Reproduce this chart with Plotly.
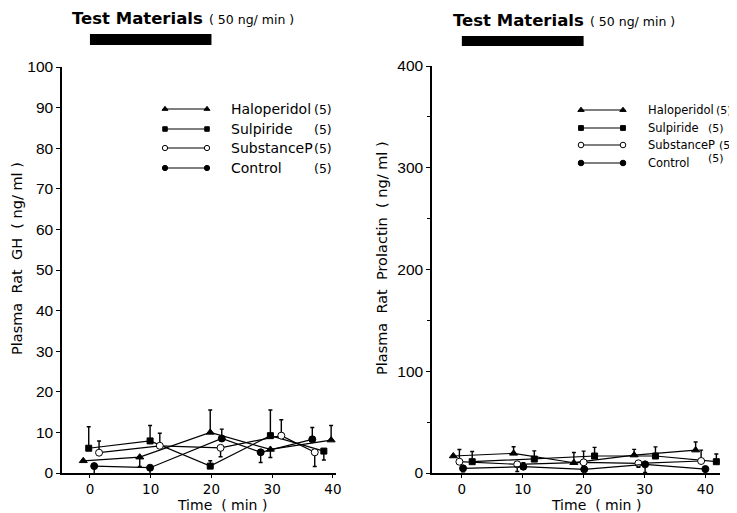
import plotly.graph_objects as go

W, H = 737, 513
OFF = 8  # page body margin of the rendered html page (pixels)

# ---------------- data ----------------
time_ticks = [0, 10, 20, 30, 40]
infusion_period = [0, 20]          # test material infusion (min)
series_names = ["Haloperidol", "Sulpiride", "SubstanceP", "Control"]
n_rats = ["(5)", "(5)", "(5)", "(5)"]

# Plasma GH (ng/ml)
gh_halo_t = [-1.1, 8.2, 19.8, 29.7, 39.7]
gh_halo_v = [3.0, 3.9, 10.0, 5.8, 8.1]
gh_halo_up = [0, 0, 5.5, 0, 3.6]
gh_halo_dn = [0, 2.3, 0, 2.0, 0]

gh_sulp_t = [-0.2, 9.9, 19.8, 29.7, 38.5]
gh_sulp_v = [6.1, 7.9, 1.7, 9.2, 5.4]
gh_sulp_up = [5.3, 3.8, 1.3, 6.3, 0]
gh_sulp_dn = [0, 0, 0, 0, 2.2]

gh_subp_t = [1.5, 11.5, 21.5, 31.5, 37.0]
gh_subp_v = [5.0, 6.7, 6.2, 9.2, 5.1]
gh_subp_up = [2.9, 3.1, 0, 3.9, 0]
gh_subp_dn = [0, 0, 2.2, 0, 3.5]

gh_ctrl_t = [0.7, 9.9, 21.7, 28.1, 36.6]
gh_ctrl_v = [1.7, 1.3, 8.5, 5.1, 8.3]
gh_ctrl_up = [0, 0, 2.3, 0, 2.9]
gh_ctrl_dn = [2.6, 1.5, 0, 2.5, 0]

# Plasma prolactin (ng/ml)
prl_halo_t = [-1.4, 8.5, 18.4, 28.3, 38.4]
prl_halo_v = [16.7, 19.3, 10.1, 17.6, 22.5]
prl_halo_up = [0, 6.5, 10.0, 5.6, 8.0]
prl_halo_dn = [0, 0, 0, 0, 0]

prl_sulp_t = [1.7, 11.9, 21.8, 31.8, 41.8]
prl_sulp_v = [11.1, 13.7, 16.7, 16.7, 11.1]
prl_sulp_up = [10.0, 8.0, 8.5, 9.0, 7.5]
prl_sulp_dn = [0, 0, 0, 0, 0]

prl_subp_t = [-0.4, 9.1, 20.0, 29.0, 39.3]
prl_subp_v = [11.1, 8.5, 10.5, 9.5, 11.8]
prl_subp_up = [12.0, 0, 11.0, 0, 10.7]
prl_subp_dn = [0, 7.0, 0, 4.0, 0]

prl_ctrl_t = [0.2, 10.1, 20.1, 30.1, 40.0]
prl_ctrl_v = [4.6, 6.2, 3.6, 8.5, 3.9]
prl_ctrl_up = [0, 4.0, 0, 0, 0]
prl_ctrl_dn = [3.5, 0, 2.0, 8.0, 4.0]

# ---------------- styles ----------------
FONT = "DejaVu Sans"
styles = {
    "Haloperidol": dict(symbol="triangle-up", size=7, color="black"),
    "Sulpiride": dict(symbol="square", size=6, color="black"),
    "SubstanceP": dict(symbol="circle", size=7, color="white"),
    "Control": dict(symbol="circle", size=7, color="black"),
}

gh_sets = [
    (gh_halo_t, gh_halo_v, gh_halo_up, gh_halo_dn),
    (gh_sulp_t, gh_sulp_v, gh_sulp_up, gh_sulp_dn),
    (gh_subp_t, gh_subp_v, gh_subp_up, gh_subp_dn),
    (gh_ctrl_t, gh_ctrl_v, gh_ctrl_up, gh_ctrl_dn),
]
prl_sets = [
    (prl_halo_t, prl_halo_v, prl_halo_up, prl_halo_dn),
    (prl_sulp_t, prl_sulp_v, prl_sulp_up, prl_sulp_dn),
    (prl_subp_t, prl_subp_v, prl_subp_up, prl_subp_dn),
    (prl_ctrl_t, prl_ctrl_v, prl_ctrl_up, prl_ctrl_dn),
]


def fx(p):
    return (p - OFF) / W


def fy(p):
    return 1 - (p - OFF) / H


fig = go.Figure()


def add_series(sets, xa, ya):
    for name, (t, v, up, dn) in zip(series_names, sets):
        st = styles[name]
        fig.add_trace(go.Scatter(
            x=t, y=v, mode="lines+markers", xaxis=xa, yaxis=ya,
            line=dict(color="black", width=1.2),
            marker=dict(symbol=st["symbol"], size=st["size"], color=st["color"],
                        line=dict(color="black", width=1)),
            error_y=dict(type="data", symmetric=False, array=up, arrayminus=dn,
                         color="black", thickness=1.4, width=2),
            cliponaxis=False, showlegend=False, name=name,
        ))


add_series(gh_sets, "x", "y")
add_series(prl_sets, "x2", "y2")

# ---------------- legend samples (overlay axis in page pixel units) ----------------
legend_left = dict(x0=165, x1=207, rows=[109, 129, 148, 168], text_x=229,
                   n_x=[312, 312, 312, 312], n_dy=[0, 0, 0, 0], msize=0.75,
                   fs=14, nfs=12.5)
legend_right = dict(x0=581, x1=623, rows=[110, 128, 145, 163], text_x=646,
                    n_x=[714, 706, 717, 706], n_dy=[0, 0, 0, -5], msize=0.8,
                    fs=11.5, nfs=11)

annotations = []
for lg in (legend_left, legend_right):
    for i, name in enumerate(series_names):
        st = styles[name]
        yy = lg["rows"][i]
        fig.add_trace(go.Scatter(
            x=[lg["x0"], lg["x1"]], y=[yy, yy], mode="lines+markers",
            xaxis="x3", yaxis="y3",
            line=dict(color="black", width=1.1),
            marker=dict(symbol=st["symbol"], size=st["size"] * lg["msize"],
                        color=st["color"], line=dict(color="black", width=1)),
            showlegend=False, hoverinfo="skip", cliponaxis=False,
        ))
        annotations.append(dict(x=lg["text_x"], y=yy, xref="x3", yref="y3",
                                text=name, showarrow=False, xanchor="left",
                                yanchor="middle",
                                font=dict(family=FONT, size=lg["fs"], color="black")))
        annotations.append(dict(x=lg["n_x"][i], y=yy + lg["n_dy"][i], xref="x3",
                                yref="y3", text=n_rats[i], showarrow=False,
                                xanchor="left", yanchor="middle",
                                font=dict(family=FONT, size=lg["nfs"], color="black")))

# ---------------- titles ----------------
for cx, cy in ((205, 18), (586, 20)):
    annotations.append(dict(x=cx, y=cy, xref="x3", yref="y3",
                            text="<b>Test Materials</b>", showarrow=False,
                            xanchor="right", yanchor="middle",
                            font=dict(family=FONT, size=16.5, color="black")))
    annotations.append(dict(x=cx + 2, y=cy + 1, xref="x3", yref="y3",
                            text="( 50 ng/ min )", showarrow=False,
                            xanchor="left", yanchor="middle",
                            font=dict(family=FONT, size=12.5, color="black")))

# axis titles
annotations.append(dict(x=17, y=259, xref="x3", yref="y3",
                        text="Plasma  Rat  GH  ( ng/ ml )", textangle=-90,
                        showarrow=False, font=dict(family=FONT, size=14.5, color="black")))
annotations.append(dict(x=382, y=258, xref="x3", yref="y3",
                        text="Plasma  Rat  Prolactin  ( ng/ ml )", textangle=-90,
                        showarrow=False, font=dict(family=FONT, size=14.5, color="black")))
annotations.append(dict(x=222, y=505, xref="x3", yref="y3",
                        text="Time  ( min )", showarrow=False,
                        font=dict(family=FONT, size=14, color="black")))
annotations.append(dict(x=596, y=505, xref="x3", yref="y3",
                        text="Time  ( min )", showarrow=False,
                        font=dict(family=FONT, size=14, color="black")))

# infusion bars
shapes = []
for xr, y0p, y1p in (("x", 45, 34), ("x2", 46, 36)):
    shapes.append(dict(type="rect", xref=xr, yref="paper",
                       x0=infusion_period[0], x1=infusion_period[1],
                       y0=fy(y0p), y1=fy(y1p),
                       fillcolor="black", line=dict(color="black", width=0)))

axis_common = dict(showline=True, linecolor="black", linewidth=1.5,
                   ticks="outside", tickcolor="black", tickwidth=1.3,
                   showgrid=False, zeroline=False)
xfont = dict(family=FONT, size=13.5, color="black")
yfont = dict(family="Liberation Sans", size=15.5, color="black")

fig.update_layout(
    width=W, height=H, margin=dict(l=0, r=0, t=0, b=0, pad=0, autoexpand=False),
    paper_bgcolor="white", plot_bgcolor="rgba(0,0,0,0)",
    showlegend=False,
    xaxis=dict(domain=[fx(62), fx(336)], range=[-4.6, 40.5], tickvals=time_ticks,
               anchor="y", tickfont=xfont, ticklen=3, **axis_common),
    yaxis=dict(domain=[fy(473), fy(67)], range=[0, 100], dtick=10, anchor="x",
               tickfont=yfont, ticklen=4, **axis_common),
    xaxis2=dict(domain=[fx(432), fx(720)], range=[-4.9, 42.4], tickvals=time_ticks,
                anchor="y2", tickfont=xfont, ticklen=3, **axis_common),
    yaxis2=dict(domain=[fy(473), fy(66)], range=[0, 400], dtick=100, anchor="x2",
                minor=dict(dtick=50, ticks="outside", ticklen=3, tickcolor="black"),
                tickfont=yfont, ticklen=4, **axis_common),
    xaxis3=dict(domain=[0, 1], range=[OFF, W + OFF], visible=False, anchor="y3",
                fixedrange=True),
    yaxis3=dict(domain=[0, 1], range=[H + OFF, OFF], visible=False, anchor="x3",
                fixedrange=True),
    annotations=annotations,
    shapes=shapes,
)

fig.write_html("out.html")
